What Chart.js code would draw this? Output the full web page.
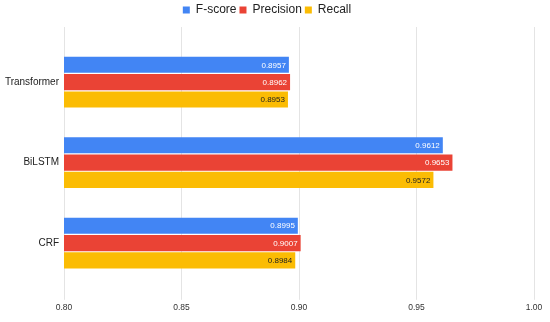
<!DOCTYPE html>
<html>
<head>
<meta charset="utf-8">
<script src="https://cdn.jsdelivr.net/npm/chart.js@4.4.1/dist/chart.umd.min.js"></script>
<style>
  html, body { margin: 0; padding: 0; background: #ffffff; }
  #wrap { width: 550px; height: 322px; }
</style>
</head>
<body>
<div id="wrap"><canvas id="c" width="550" height="322"></canvas></div>
<script>
const categories = ['Transformer', 'BiLSTM', 'CRF'];
const seriesNames = ['F-score', 'Precision', 'Recall'];
const fscore = [0.8957, 0.9612, 0.8995];
const precision = [0.8962, 0.9653, 0.9007];
const recall = [0.8953, 0.9572, 0.8984];
const xTicks = [0.80, 0.85, 0.90, 0.95, 1.00];

const colors = ['#4285F4', '#EA4335', '#FBBC04'];
const labelColors = ['#ffffff', '#ffffff', '#1f1f1f'];
const seriesValues = [fscore, precision, recall];
const FONT = "'Liberation Sans', Arial, sans-serif";

const valueLabels = {
  id: 'valueLabels',
  afterDatasetsDraw(chart) {
    const ctx = chart.ctx;
    ctx.save();
    ctx.font = '8px ' + FONT;
    ctx.textAlign = 'right';
    ctx.textBaseline = 'middle';
    chart.data.datasets.forEach((ds, di) => {
      const meta = chart.getDatasetMeta(di);
      meta.data.forEach((el, i) => {
        ctx.fillStyle = labelColors[di];
        ctx.fillText(seriesValues[di][i].toFixed(4), el.x - 3, el.y + 0.5);
      });
    });
    ctx.restore();
  }
};

new Chart(document.getElementById('c'), {
  type: 'bar',
  data: {
    datasets: seriesNames.map((name, di) => ({
      label: name,
      xAxisID: 'x',
      yAxisID: 'y',
      data: seriesValues[di].map((v, i) => ({ x: v, y: i })),
      backgroundColor: colors[di],
      borderWidth: 0,
      categoryPercentage: 0.645,
      barPercentage: 0.93
    }))
  },
  options: {
    indexAxis: 'y',
    responsive: false,
    animation: false,
    layout: { padding: { left: 0, right: 16, top: 1, bottom: 6 } },
    plugins: {
      legend: {
        position: 'top',
        align: 'center',
        labels: {
          boxWidth: 7,
          boxHeight: 7,
          padding: 3,
          color: '#222222',
          font: { family: FONT, size: 12 }
        }
      },
      tooltip: { enabled: false }
    },
    scales: {
      x: {
        type: 'linear',
        position: 'bottom',
        min: 0.80,
        max: 1.00,
        afterBuildTicks: (s) => { s.ticks = xTicks.map(v => ({ value: v })); },
        ticks: {
          callback: (v) => Number(v).toFixed(2),
          color: '#333333',
          font: { family: FONT, size: 8.5 },
          padding: 3,
          maxRotation: 0
        },
        grid: { color: '#e4e4e4', tickLength: 6, drawTicks: true },
        border: { display: false }
      },
      y: {
        type: 'linear',
        reverse: true,
        offset: false,
        min: -0.685,
        max: 2.63,
        afterBuildTicks: (s) => { s.ticks = categories.map((c, i) => ({ value: i })); },
        afterFit: (s) => { s.width = 64; },
        ticks: {
          callback: (v) => categories[v],
          color: '#222222',
          font: { family: FONT, size: 10 },
          padding: 5
        },
        grid: { display: false, drawTicks: false, offset: false },
        border: { display: false }
      },
      xTop: {
        type: 'linear',
        position: 'top',
        min: 0,
        max: 1,
        display: true,
        ticks: { display: false },
        grid: { display: false, drawTicks: false },
        border: { display: false },
        afterFit: (s) => { s.height = 1; }
      }
    }
  },
  plugins: [valueLabels]
});
</script>
</body>
</html>
